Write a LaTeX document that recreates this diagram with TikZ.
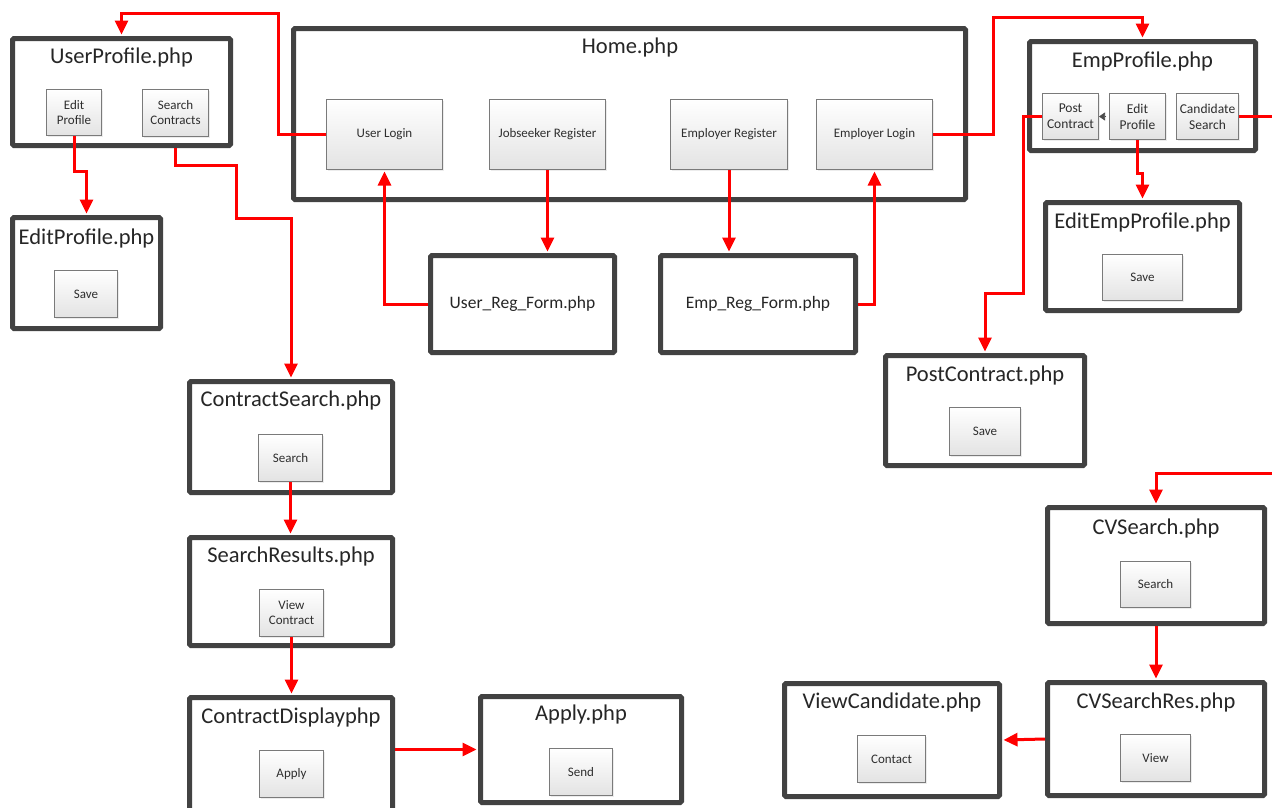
\documentclass[tikz,border=0pt]{standalone}
\usepackage{fontspec}
\setmainfont{Carlito}
\usetikzlibrary{arrows.meta,shadows}
\definecolor{boxgray}{HTML}{424242}
\definecolor{btngray}{HTML}{7A7A7A}
\definecolor{txtgray}{HTML}{262626}
\newcommand{\pbox}[5]{\node[pagebox, minimum width={#4-#2-5}, minimum height={#5-#3-5}] (#1) at ({(#2+#4)/2},{(#3+#5)/2}) {};}
\newcommand{\bbox}[6]{\node[btn, minimum width={#4-#2-1}, minimum height={#5-#3-1}] (#1) at ({(#2+#4)/2},{(#3+#5)/2}) {#6};}
\begin{document}
\begin{tikzpicture}[x=1pt,y=-1pt,
  pagebox/.style={draw=boxgray, line width=5pt, rounded corners=1.5pt, fill=white, inner sep=0pt,
    drop shadow={opacity=0.18,shadow xshift=2pt,shadow yshift=-2pt}},
  btn/.style={draw=btngray, line width=1pt, top color=white, bottom color=black!11,
    font=\fontsize{13}{15}\selectfont, text=black!82, align=center, inner sep=0pt,
    drop shadow={opacity=0.15,shadow xshift=1.5pt,shadow yshift=-1.5pt}},
  ttl/.style={font=\fontsize{22.5}{26}\selectfont, text=txtgray, inner sep=0pt},
  midttl/.style={font=\fontsize{17.5}{20}\selectfont, text=txtgray, inner sep=0pt},
  arr/.style={draw=red, line width=3pt, shorten >=1.5pt, -{Triangle[length=14pt,width=13pt]}},
  lnk/.style={draw=red, line width=3pt}
]
\useasboundingbox (0,0) rectangle (1272,807);
\fill[white] (0,0) rectangle (1272,807);

% UserProfile
\pbox{uprof}{10}{36}{233}{148}
\node[ttl] (uprof-t) at (121.5,57) {UserProfile.php};
\bbox{ueditbtn}{46}{89}{102}{136}{Edit\\Profile}
\bbox{usrchbtn}{142}{89}{209}{137}{Search\\Contracts}

% EditProfile
\pbox{editprof}{10}{215}{163}{331}
\node[ttl] (editprof-t) at (86.5,238) {EditProfile.php};
\bbox{usavebtn}{54}{270}{118}{318}{Save}

% Home
\pbox{home}{291}{26}{968}{202}
\node[ttl] (home-t) at (630,47) {Home.php};
\bbox{ulogin}{326}{99}{443}{170}{User Login}
\bbox{jreg}{489}{99}{606}{170}{Jobseeker Register}
\bbox{ereg}{670}{99}{788}{170}{Employer Register}
\bbox{elogin}{816}{99}{933}{170}{Employer Login}

% Registration forms
\pbox{ureg}{428}{253}{617}{355}
\node[midttl] (ureg-t) at (ureg) {User\_Reg\_Form.php};
\pbox{empreg}{658}{253}{858}{355}
\node[midttl] (empreg-t) at (empreg) {Emp\_Reg\_Form.php};

% EmpProfile
\pbox{eprof}{1027}{39}{1258}{153}
\node[ttl] (eprof-t) at (1142.5,61) {EmpProfile.php};
\begin{scope}[btn/.append style={font=\fontsize{13.5}{16}\selectfont}]
\bbox{pcbtn}{1042}{93}{1099}{140}{Post\\Contract}
\bbox{eeditbtn}{1109}{93}{1166}{140}{Edit\\Profile}
\bbox{csbtn}{1176}{93}{1239}{140}{Candidate\\Search}
\end{scope}

% EditEmpProfile
\pbox{editemp}{1043}{200}{1242}{313}
\node[ttl] (editemp-t) at (1142.5,222) {EditEmpProfile.php};
\bbox{esavebtn}{1102}{254}{1183}{301}{Save}

% PostContract
\pbox{postc}{883}{353}{1087}{468}
\node[ttl] (postc-t) at (985,375) {PostContract.php};
\bbox{psavebtn}{949}{407}{1021}{456}{Save}

% CVSearch
\pbox{cvs}{1045}{505}{1267}{626}
\node[ttl] (cvs-t) at (1156,528) {CVSearch.php};
\bbox{cvsbtn}{1120}{561}{1191}{608}{Search}

% CVSearchRes
\pbox{cvsres}{1045}{680}{1267}{798}
\node[ttl] (cvsres-t) at (1156,702) {CVSearchRes.php};
\bbox{viewbtn}{1120}{734}{1191}{782}{View}

% ViewCandidate
\pbox{vc}{782}{681}{1002}{799}
\node[ttl] (vc-t) at (892,702) {ViewCandidate.php};
\bbox{contactbtn}{857}{735}{926}{783}{Contact}

% ContractSearch
\pbox{csearch}{187}{379}{395}{495}
\node[ttl] (csearch-t) at (291,400) {ContractSearch.php};
\bbox{csrchbtn}{258}{434}{323}{482}{Search}

% SearchResults
\pbox{sres}{187}{535}{395}{648}
\node[ttl] (sres-t) at (291,556) {SearchResults.php};
\bbox{viewcbtn}{259}{589}{324}{637}{View\\Contract}

% ContractDisplay
\pbox{cdisp}{187}{695}{395}{830}
\node[ttl] (cdisp-t) at (291,717) {ContractDisplayphp};
\bbox{applybtn}{259}{750}{324}{798}{Apply}

% Apply
\pbox{apply}{478}{694}{684}{805}
\node[ttl] (apply-t) at (581,714) {Apply.php};
\bbox{sendbtn}{549}{748}{613}{796}{Send}

% bend points
\coordinate (c1) at (278,13);
\coordinate (c2) at (236,218);
\coordinate (c3) at (993,17);
\coordinate (c4) at (1023,293);
\coordinate (c5) at (1275,117);
\coordinate (c6) at (1275,473);

% connectors
\draw[arr] (ulogin.west) -| (c1) -| (uprof.north);
\draw[arr] (ueditbtn.south) -- ++(0,35) -| (editprof.north);
\draw[arr] (usrchbtn.south |- uprof.south) -- ++(0,17) -| (c2) -| (csearch.north);
\draw[arr] (jreg.south) -- (jreg.south |- ureg.north);
\draw[arr] (ureg.west) -| (ulogin.south);
\draw[arr] (ereg.south) -- (ereg.south |- empreg.north);
\draw[arr] (empreg.east) -| (elogin.south);
\draw[arr] (elogin.east) -| (c3) -| (eprof.north);
\draw[arr] (eeditbtn.south) -- ++(0,33) -| (editemp.north);
\draw[arr] (pcbtn.west) -| (c4) -| (postc.north);
\draw[lnk] (csbtn.east) -- (csbtn.east -| c5);
\draw[arr] (c6) -| (cvs.north);
\draw[arr] (cvs.south) -- (cvsres.north);
\draw[arr] (cvsres.west) -- (vc.east);
\draw[arr] (csrchbtn.south) -- (csrchbtn.south |- sres.north);
\draw[arr] (viewcbtn.south) -- (viewcbtn.south |- cdisp.north);
\draw[arr] (apply.west -| cdisp.east) -- (apply.west);
\draw[draw=black!70, fill=black!70, line width=0.6pt, shorten <=3pt, -{Triangle[length=6pt,width=8pt]}] (eeditbtn.west) -- (pcbtn.east);
\end{tikzpicture}
\end{document}
